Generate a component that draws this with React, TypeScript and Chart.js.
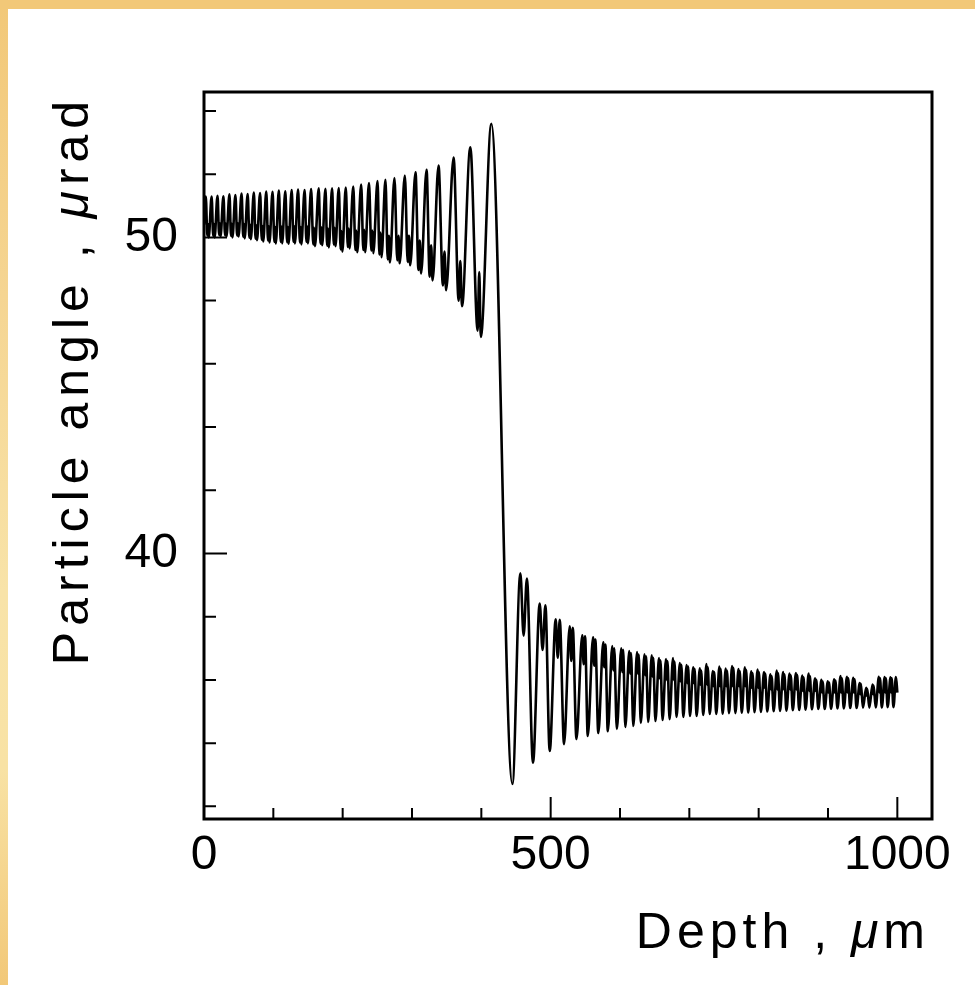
import { useEffect, useRef } from 'react';
import { Chart, registerables } from 'chart.js';

Chart.register(...registerables);

// Main extremes of the oscillation before the reflection point (depth in µm, angle in µrad)
const preDepth = [
  0, 2.6, 6.8, 11.0, 15.3, 19.5, 23.8, 28.0, 32.4, 36.7, 41.0, 45.3, 49.8, 54.2, 58.6, 63.0, 67.5,
  71.9, 76.4, 80.9, 85.4, 89.8, 94.4, 98.9, 103.5, 108.0, 112.7, 117.3, 121.9, 126.5, 131.1, 135.7,
  140.4, 145.1, 149.8, 154.5, 160.0, 165.5, 170.4, 175.2, 180.0, 184.8, 189.6, 194.4, 199.5, 204.5,
  209.9, 215.3, 221.0, 226.7, 232.4, 238.0, 244.2, 250.3, 256.0, 261.7, 268.2, 274.7, 282.2, 289.7,
  297.4, 305.1, 313.1, 321.0, 329.7, 338.3, 349.2, 360.0, 372.1, 384.1, 399.2, 414.4,
];
const preAngle = [
  50.40, 51.29, 50.00, 51.29, 50.00, 51.32, 50.03, 51.30, 50.03, 51.36, 50.00, 51.34, 50.03, 51.39,
  49.97, 51.37, 49.94, 51.42, 49.91, 51.40, 49.87, 51.45, 49.84, 51.44, 49.81, 51.48, 49.81, 51.46,
  49.80, 51.50, 49.81, 51.51, 49.78, 51.50, 49.81, 51.53, 49.72, 51.55, 49.75, 51.54, 49.68, 51.55,
  49.72, 51.56, 49.55, 51.58, 49.65, 51.61, 49.53, 51.67, 49.53, 51.72, 49.50, 51.78, 49.37, 51.82,
  49.21, 51.88, 49.18, 51.96, 49.12, 52.06, 48.86, 52.14, 48.64, 52.27, 48.33, 52.53, 47.82, 52.85,
  46.85, 53.59,
];
// Split troughs before the reflection: first dip and the small bump before each main trough
const preNotchDepth = [
  4.8, 5.8, 13.3, 14.3, 21.8, 22.8, 30.4, 31.4, 39.0, 40.0, 47.8, 48.8, 56.6, 57.6, 65.5, 66.5,
  74.4, 75.4, 83.4, 84.4, 92.4, 93.4, 101.5, 102.5, 110.7, 111.7, 119.9, 120.9, 129.1, 130.1,
  138.4, 139.4, 147.8, 148.8, 157.6, 158.8, 168.0, 169.2, 177.6, 178.8, 187.2, 188.4, 197.1, 198.3,
  207.5, 208.7, 218.4, 219.7, 229.8, 231.1, 241.4, 242.8, 253.0, 254.5, 265.0, 266.6, 278.8, 280.5,
  293.8, 295.6, 309.3, 311.2, 325.5, 327.6, 344.6, 346.9, 367.3, 369.7, 394.7, 397.0,
];
const preNotchAngle = [
  50.06, 50.42, 50.05, 50.42, 50.08, 50.45, 50.07, 50.44, 50.05, 50.43, 50.06, 50.45, 50.02, 50.42,
  49.99, 50.40, 49.96, 50.38, 49.93, 50.36, 49.90, 50.35, 49.86, 50.33, 49.86, 50.34, 49.85, 50.33,
  49.86, 50.35, 49.84, 50.33, 49.86, 50.34, 49.78, 50.30, 49.80, 50.32, 49.74, 50.28, 49.78, 50.30,
  49.62, 50.20, 49.70, 50.28, 49.60, 50.22, 49.60, 50.24, 49.58, 50.22, 49.45, 50.15, 49.30, 50.05,
  49.27, 50.05, 49.22, 50.05, 48.97, 49.90, 48.76, 49.75, 48.48, 49.55, 48.00, 49.25, 47.05, 48.90,
];

// Main extremes after the reflection point
const postDepth = [
  444.8, 456.3, 474.5, 484.2, 498.6, 507.3, 519.3, 527.5, 537.2, 545.6, 553.5, 561.2, 568.7, 575.9,
  582.4, 588.9, 595.4, 601.9, 607.7, 613.4, 619.2, 624.7, 630.0, 635.4, 640.7, 645.9, 651.1, 656.3,
  661.4, 666.4, 671.5, 676.5, 681.5, 686.4, 691.3, 696.2, 700.9, 705.7, 710.5, 715.2, 720.0, 724.8,
  729.4, 734.0, 738.8, 743.4, 748.0, 752.6, 757.2, 761.8, 766.4, 771.0, 775.6, 780.2, 784.8, 789.4,
  794.0, 798.6, 803.2, 807.8, 812.4, 817.0, 821.6, 826.2, 830.8, 835.4, 840.0, 844.6, 849.2, 853.8,
  858.4, 863.0, 867.6, 872.2, 876.8, 881.4, 886.0, 890.6, 895.2, 899.8, 904.4, 909.0, 913.6, 918.2,
  922.8, 927.4, 932.0, 936.6, 941.2, 945.8, 950.4, 955.0, 959.6, 964.2, 968.8, 973.4, 977.6, 981.8,
  986.0, 990.2, 994.4, 998.0, 1000.0,
];
const postAngle = [
  32.71, 39.37, 33.38, 38.42, 33.75, 37.92, 33.97, 37.70, 34.13, 37.41, 34.23, 37.35, 34.32, 37.19,
  34.38, 37.07, 34.45, 37.00, 34.51, 36.91, 34.54, 36.88, 34.64, 36.81, 34.67, 36.78, 34.70, 36.69,
  34.73, 36.66, 34.76, 36.69, 34.83, 36.53, 34.83, 36.47, 34.86, 36.40, 34.86, 36.37, 34.89, 36.50,
  34.92, 36.28, 34.92, 36.42, 34.93, 36.36, 34.95, 36.44, 34.95, 36.34, 34.96, 36.40, 34.97, 36.27,
  34.98, 36.33, 34.99, 36.25, 35.00, 36.18, 35.01, 36.30, 35.02, 36.25, 35.03, 36.20, 35.04, 36.22,
  35.05, 36.14, 35.06, 36.20, 35.07, 36.05, 35.08, 36.00, 35.08, 35.96, 35.09, 36.02, 35.10, 36.12,
  35.10, 36.10, 35.11, 36.07, 35.11, 35.90, 35.12, 35.75, 35.12, 35.85, 35.13, 36.10, 35.13, 36.09,
  35.14, 36.08, 35.14, 36.09, 35.60,
];
// Split peaks after the reflection: notch and second top after each main peak
const postNotchDepth = [
  461.0, 465.7, 488.3, 492.4, 510.2, 513.1, 529.7, 531.9, 547.6, 549.6, 562.8, 564.4, 577.4, 578.9,
  590.3, 591.7, 603.2, 604.5, 614.6, 615.8, 625.8, 626.9, 636.5, 637.6, 646.9, 647.9, 657.3, 658.3,
  667.4, 668.4, 677.5, 678.5, 687.4, 688.4, 697.2, 698.2, 706.6, 707.5, 716.1, 717.0, 725.7, 726.6,
  734.9, 735.8, 744.2, 745.0, 753.4, 754.2, 762.6, 763.4, 771.8, 772.6, 781.0, 781.8, 790.2, 791.0,
  799.4, 800.2, 808.6, 809.4, 817.8, 818.6, 827.0, 827.8, 836.2, 837.0, 845.4, 846.2, 854.6, 855.4,
  863.8, 864.6, 873.0, 873.8, 882.2, 883.0, 891.4, 892.2, 900.6, 901.4, 909.8, 910.6, 919.0, 919.8,
  928.2, 929.0, 937.4, 938.2, 946.6, 947.4, 955.8, 956.6, 965.0, 965.8, 974.2, 975.0, 982.6, 983.4,
  991.0, 991.8,
];
const postNotchAngle = [
  37.40, 39.21, 36.95, 38.36, 36.70, 37.90, 36.60, 37.65, 36.50, 37.38, 36.45, 37.28, 36.40, 37.12,
  36.30, 37.00, 36.25, 36.95, 36.20, 36.85, 36.20, 36.80, 36.15, 36.75, 36.10, 36.70, 36.05, 36.62,
  36.00, 36.60, 36.00, 36.58, 35.95, 36.48, 35.90, 36.42, 35.90, 36.35, 35.85, 36.30, 35.85, 36.40,
  35.80, 36.25, 35.80, 36.35, 35.80, 36.30, 35.80, 36.38, 35.80, 36.28, 35.80, 36.32, 35.75, 36.22,
  35.75, 36.25, 35.75, 36.20, 35.70, 36.12, 35.70, 36.22, 35.70, 36.18, 35.70, 36.15, 35.70, 36.16,
  35.65, 36.08, 35.65, 36.12, 35.65, 36.00, 35.60, 35.95, 35.60, 35.92, 35.60, 35.98, 35.60, 36.05,
  35.60, 36.05, 35.60, 36.02, 35.55, 35.88, 35.50, 35.72, 35.55, 35.82, 35.60, 36.05, 35.60, 36.05,
  35.60, 36.05,
];

const xTickValues = [0, 100, 200, 300, 400, 500, 600, 700, 800, 900, 1000];
const xMajorTicks = [0, 500, 1000];
const yTickValues = [32, 34, 36, 38, 40, 42, 44, 46, 48, 50, 52, 54];
const yMajorTicks = [40, 50];
const xTitleParts = ['Depth , ', 'μ', 'm'];
const yTitleParts = ['Particle angle , ', 'μ', 'rad'];

const TEXT_FONT = '"Liberation Sans", Arial, sans-serif';

function measureParts(ctx: CanvasRenderingContext2D, parts: string[], size: number) {
  const fonts = parts.map((_, i) => (i === 1 ? `italic ${size}px ${TEXT_FONT}` : `${size}px ${TEXT_FONT}`));
  const widths = parts.map((p, i) => {
    ctx.font = fonts[i];
    return ctx.measureText(p).width;
  });
  return { fonts, widths, total: widths.reduce((a, b) => a + b, 0) };
}

export default function App() {
  const ref = useRef<HTMLCanvasElement>(null);

  useEffect(() => {
    if (!ref.current) return;
    const points: { x: number; y: number }[] = [];
    preDepth.forEach((x, i) => points.push({ x, y: preAngle[i] }));
    preNotchDepth.forEach((x, i) => points.push({ x, y: preNotchAngle[i] }));
    postDepth.forEach((x, i) => points.push({ x, y: postAngle[i] }));
    postNotchDepth.forEach((x, i) => points.push({ x, y: postNotchAngle[i] }));
    points.sort((a, b) => a.x - b.x);

    const framePlugin = {
      id: 'paw-frame',
      afterDatasetsDraw(chart: any) {
        const { ctx, chartArea: a, scales } = chart;
        const xs = scales.x;
        const ys = scales.y;
        ctx.save();
        ctx.strokeStyle = '#000';
        ctx.lineWidth = 2;
        ctx.beginPath();
        for (const v of xTickValues) {
          const px = xs.getPixelForValue(v);
          const len = xMajorTicks.includes(v) ? 22 : 11;
          ctx.moveTo(px, a.bottom);
          ctx.lineTo(px, a.bottom - len);
        }
        for (const v of yTickValues) {
          const py = ys.getPixelForValue(v);
          const len = yMajorTicks.includes(v) ? 23 : 12;
          ctx.moveTo(a.left, py);
          ctx.lineTo(a.left + len, py);
        }
        ctx.stroke();
        ctx.lineWidth = 3;
        ctx.strokeRect(a.left, a.top, a.right - a.left, a.bottom - a.top);

        ctx.fillStyle = '#000';
        ctx.textBaseline = 'alphabetic';
        ctx.textAlign = 'left';
        const size = 50;
        // x title (right aligned)
        (ctx as any).letterSpacing = '5px';
        const xt = measureParts(ctx, xTitleParts, size);
        let cx = 922 - xt.total;
        xTitleParts.forEach((p, i) => {
          ctx.font = xt.fonts[i];
          ctx.fillText(p, cx, 939);
          cx += xt.widths[i];
        });
        // y title (rotated, centred)
        (ctx as any).letterSpacing = '6px';
        const yt = measureParts(ctx, yTitleParts, size);
        ctx.translate(80, 371);
        ctx.rotate(-Math.PI / 2);
        let cy = -yt.total / 2;
        yTitleParts.forEach((p, i) => {
          ctx.font = yt.fonts[i];
          ctx.fillText(p, cy, 0);
          cy += yt.widths[i];
        });
        (ctx as any).letterSpacing = '0px';
        ctx.restore();
      },
    };

    const tickFont = { family: TEXT_FONT, size: 48 };

    const chart = new Chart(ref.current, {
      type: 'line',
      data: {
        datasets: [
          {
            data: points,
            borderColor: '#000',
            borderWidth: 2.6,
            pointRadius: 0,
            fill: false,
            cubicInterpolationMode: 'monotone',
          },
        ],
      },
      options: {
        animation: false,
        responsive: false,
        events: [],
        layout: { padding: { left: 0, right: 43, top: 83, bottom: 0 } },
        plugins: { legend: { display: false }, tooltip: { enabled: false }, title: { display: false } },
        scales: {
          x: {
            type: 'linear',
            min: 0,
            max: 1050,
            afterBuildTicks: (s: any) => {
              s.ticks = xTickValues.map((v) => ({ value: v }));
            },
            afterFit: (s: any) => {
              s.height = 166;
            },
            grid: { display: false },
            border: { display: false },
            ticks: {
              autoSkip: false,
              maxRotation: 0,
              padding: 0,
              color: '#000',
              font: tickFont,
              callback: (v: any) => (xMajorTicks.includes(Number(v)) ? String(v) : ''),
            },
          },
          y: {
            type: 'linear',
            min: 31.6,
            max: 54.6,
            afterBuildTicks: (s: any) => {
              s.ticks = yTickValues.map((v) => ({ value: v }));
            },
            afterFit: (s: any) => {
              s.width = 196;
            },
            grid: { display: false },
            border: { display: false },
            ticks: {
              autoSkip: false,
              padding: 18,
              color: '#000',
              font: tickFont,
              callback: (v: any) => (yMajorTicks.includes(Number(v)) ? String(v) : ''),
            },
          },
        },
      },
      plugins: [framePlugin],
    });
    return () => chart.destroy();
  }, []);

  return (
    <div
      style={{
        position: 'fixed',
        left: 0,
        top: 0,
        width: 975,
        height: 985,
        overflow: 'hidden',
        background: 'linear-gradient(to bottom, #F2C878 0%, #F5D592 30%, #F8E3A8 60%, #F8E2A4 78%, #F2C878 100%)',
      }}
    >
      <div style={{ position: 'absolute', left: 0, top: 0, width: 975, height: 9, background: '#F2C878' }} />
      <canvas
        ref={ref}
        width={967}
        height={976}
        style={{ position: 'absolute', left: 8, top: 9, width: 967, height: 976, background: '#fff', display: 'block' }}
      />
    </div>
  );
}
